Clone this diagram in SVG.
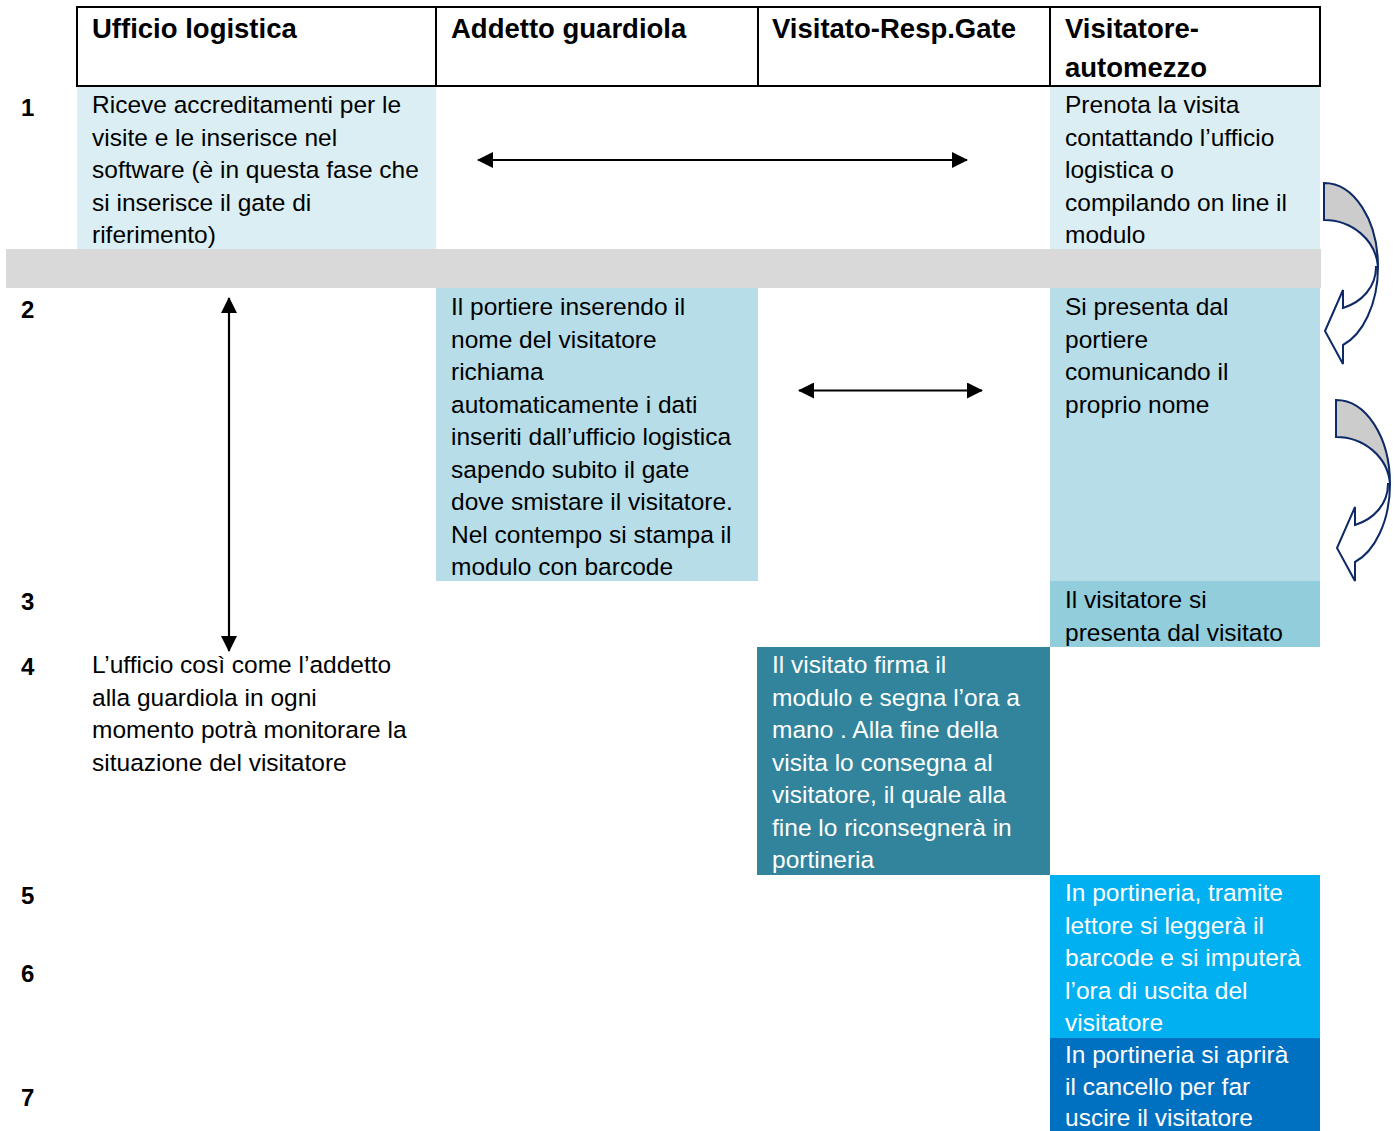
<svg xmlns="http://www.w3.org/2000/svg" width="1394" height="1131" viewBox="0 0 1394 1131">
<style>
text{font-family:"Liberation Sans",Arial,sans-serif;font-size:24.5px;fill:#000}
.h{font-weight:bold;font-size:27.5px}
.n{font-weight:bold;font-size:24px}
.w{fill:#fff}
.ln{stroke:#000;stroke-width:2.2;fill:none}
.ca{stroke:#0d2a66;stroke-width:2;stroke-linejoin:miter}
</style>
<defs>
<marker id="ah" viewBox="0 0 16 16" refX="15" refY="8" markerWidth="16" markerHeight="16" markerUnits="userSpaceOnUse" orient="auto-start-reverse">
<path d="M0,0 L16,8 L0,16 Z" fill="#000"/>
</marker>
<g id="curv">
<path class="ca" fill="#cccccc" d="M1324,183 C1354,183 1378,220 1378,267 C1376,240 1352,220 1324,220 Z"/>
<path class="ca" fill="#fff" d="M1378,267 C1378,305 1362,335 1343,345 L1343,364 L1325,331 L1343,290 L1343,308 C1362,302 1376,287 1376,267 Z"/>
</g>
</defs>
<rect width="1394" height="1131" fill="#fff"/>

<g id="backgrounds">
<rect x="77" y="86" width="359" height="163" fill="#daeef3"/>
<rect x="1050" y="86" width="270" height="163" fill="#daeef3"/>
<rect x="6" y="249" width="1315" height="39" fill="#d9d9d9"/>
</g>

<g id="header">
<rect x="77" y="7" width="1243" height="79" fill="#fff" stroke="#000" stroke-width="2"/>
<path d="M436,7 V86 M758,7 V86 M1050,7 V86" stroke="#000" stroke-width="2"/>
<text class="h" x="92" y="38">Ufficio logistica</text>
<text class="h" x="451" y="38">Addetto guardiola</text>
<text class="h" x="772" y="38">Visitato-Resp.Gate</text>
<text class="h" x="1065" y="38">Visitatore-</text>
<text class="h" x="1065" y="77">automezzo</text>
</g>

<g id="row-numbers">
<text class="n" x="21" y="116">1</text>
<text class="n" x="21" y="318">2</text>
<text class="n" x="21" y="610">3</text>
<text class="n" x="21" y="675">4</text>
<text class="n" x="21" y="904">5</text>
<text class="n" x="21" y="982">6</text>
<text class="n" x="21" y="1106">7</text>
</g>

<g id="n1-ufficio">
<text x="92" y="113">Riceve accreditamenti per le</text>
<text x="92" y="145.5">visite e le inserisce nel</text>
<text x="92" y="178">software (è in questa fase che</text>
<text x="92" y="210.5">si inserisce il gate di</text>
<text x="92" y="243">riferimento)</text>
</g>

<g id="n1-visitatore">
<text x="1065" y="113">Prenota la visita</text>
<text x="1065" y="145.5">contattando l’ufficio</text>
<text x="1065" y="178">logistica o</text>
<text x="1065" y="210.5">compilando on line il</text>
<text x="1065" y="243">modulo</text>
</g>

<g id="n2-portiere">
<rect x="436" y="288" width="322" height="293" fill="#b7dde8"/>
<text x="451" y="315">Il portiere inserendo il</text>
<text x="451" y="347.5">nome del visitatore</text>
<text x="451" y="380">richiama</text>
<text x="451" y="412.5">automaticamente i dati</text>
<text x="451" y="445">inseriti dall’ufficio logistica</text>
<text x="451" y="477.5">sapendo subito il gate</text>
<text x="451" y="510">dove smistare il visitatore.</text>
<text x="451" y="542.5">Nel contempo si stampa il</text>
<text x="451" y="575">modulo con barcode</text>
</g>

<g id="n2-visitatore">
<rect x="1050" y="288" width="270" height="293" fill="#b7dde8"/>
<text x="1065" y="315">Si presenta dal</text>
<text x="1065" y="347.5">portiere</text>
<text x="1065" y="380">comunicando il</text>
<text x="1065" y="412.5">proprio nome</text>
</g>

<g id="n3-visitatore">
<rect x="1050" y="581" width="270" height="66" fill="#92cddc"/>
<text x="1065" y="608">Il visitatore si</text>
<text x="1065" y="640.5">presenta dal visitato</text>
</g>

<g id="n4-ufficio">
<text x="92" y="673">L’ufficio così come l’addetto</text>
<text x="92" y="705.5">alla guardiola in ogni</text>
<text x="92" y="738">momento potrà monitorare la</text>
<text x="92" y="770.5">situazione del visitatore</text>
</g>

<g id="n4-visitato">
<rect x="757" y="647" width="293" height="228" fill="#31849b"/>
<text class="w" x="772" y="673">Il visitato firma il</text>
<text class="w" x="772" y="705.5">modulo e segna l’ora a</text>
<text class="w" x="772" y="738">mano . Alla fine della</text>
<text class="w" x="772" y="770.5">visita lo consegna al</text>
<text class="w" x="772" y="803">visitatore, il quale alla</text>
<text class="w" x="772" y="835.5">fine lo riconsegnerà in</text>
<text class="w" x="772" y="868">portineria</text>
</g>

<g id="n5-portineria">
<rect x="1050" y="875" width="270" height="163" fill="#00b0f0"/>
<text class="w" x="1065" y="901">In portineria, tramite</text>
<text class="w" x="1065" y="933.5">lettore si leggerà il</text>
<text class="w" x="1065" y="966">barcode e si imputerà</text>
<text class="w" x="1065" y="998.5">l’ora di uscita del</text>
<text class="w" x="1065" y="1031">visitatore</text>
</g>

<g id="n7-cancello">
<rect x="1050" y="1038" width="270" height="93" fill="#0070c0"/>
<text class="w" x="1065" y="1063">In portineria si aprirà</text>
<text class="w" x="1065" y="1095">il cancello per far</text>
<text class="w" x="1065" y="1126">uscire il visitatore</text>
</g>

<g id="connectors">
<line class="ln" x1="478" y1="160" x2="967" y2="160" marker-start="url(#ah)" marker-end="url(#ah)"/>
<line class="ln" x1="799" y1="390.5" x2="982" y2="390.5" marker-start="url(#ah)" marker-end="url(#ah)"/>
<line class="ln" x1="229" y1="298" x2="229" y2="651" marker-start="url(#ah)" marker-end="url(#ah)"/>
<use href="#curv"/>
<use href="#curv" transform="translate(12,217)"/>
</g>
</svg>
